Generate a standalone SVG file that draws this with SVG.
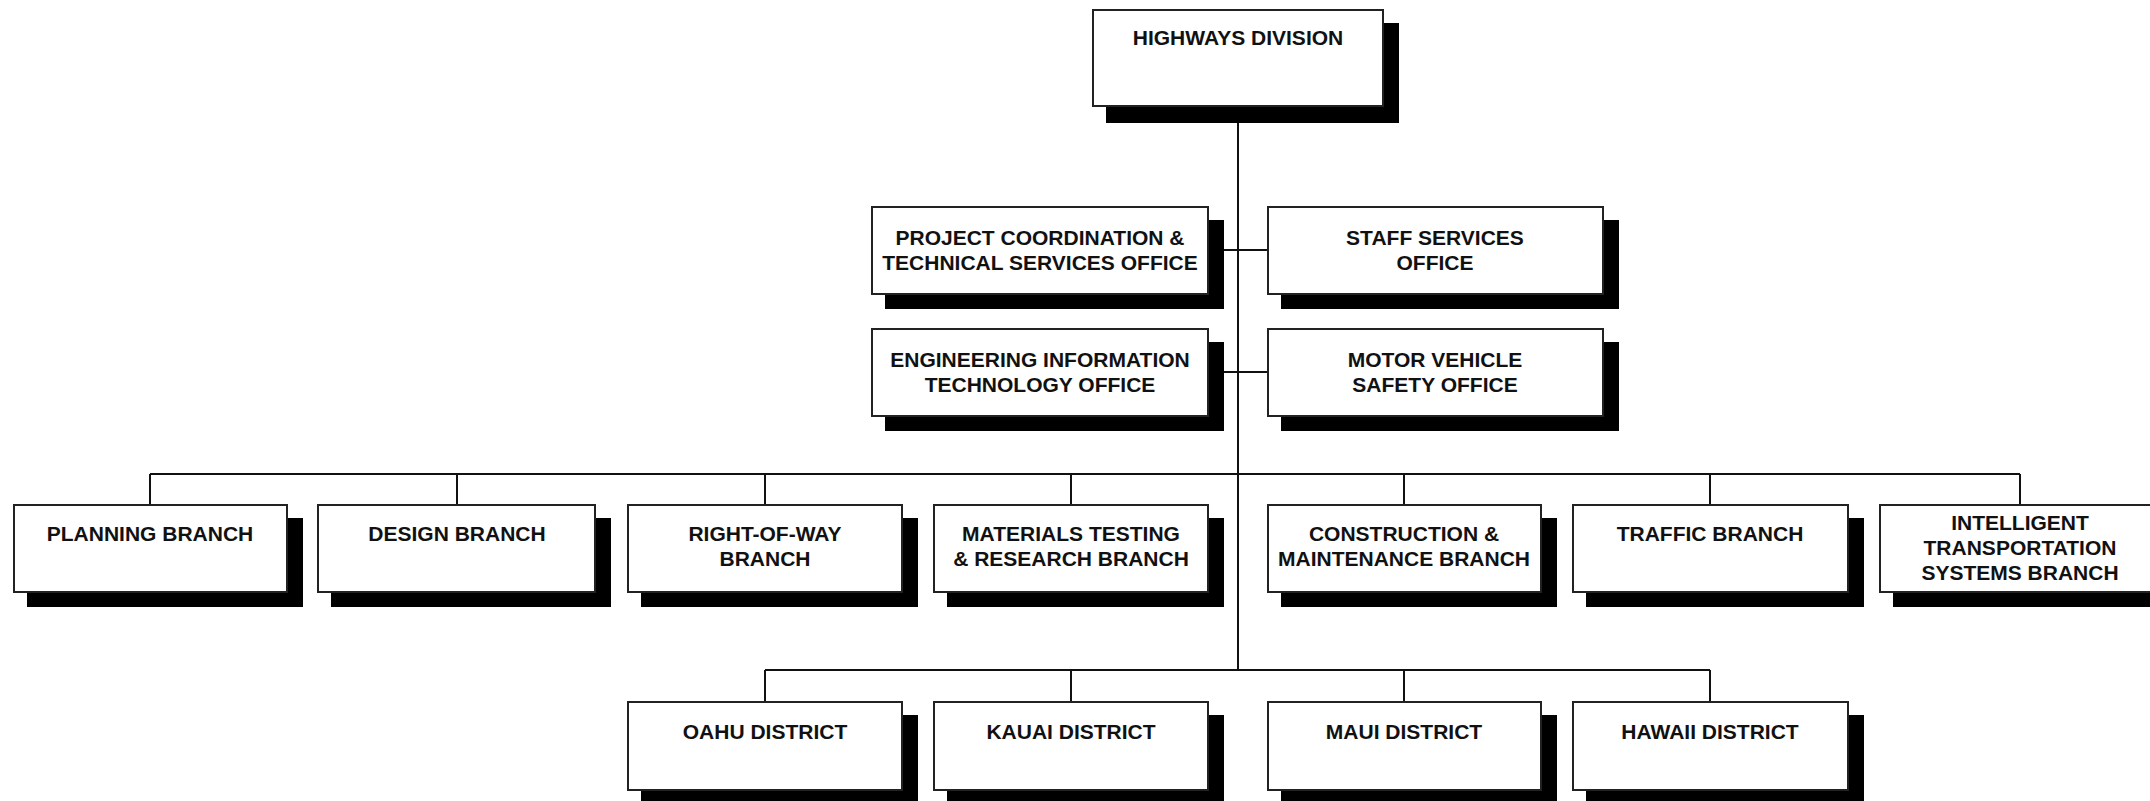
<svg xmlns="http://www.w3.org/2000/svg" width="2150" height="801" viewBox="0 0 2150 801">
<style>
.sh{fill:#000}
.bx{fill:#fff;stroke:#222;stroke-width:2}
.t{font-family:"Liberation Sans",Arial,sans-serif;font-weight:bold;font-size:21px;fill:#111;text-anchor:middle}
.ln{stroke:#111;stroke-width:2;fill:none}
</style>
<rect width="2150" height="801" fill="#fff"/>
<g id="connectors">
<path class="ln" d="M1238,107V670M1208,250H1268M1208,372H1268M150,474H2020M150,474V505M457,474V505M765,474V505M1071,474V505M1404,474V505M1710,474V505M2020,474V505M765,670H1710M765,670V702M1071,670V702M1404,670V702M1710,670V702"/>
</g>
<g id="highways"><rect class="sh" x="1106" y="23" width="293" height="100"/><rect class="bx" x="1093" y="10" width="290" height="96"/><text class="t" x="1238" y="45">HIGHWAYS DIVISION</text></g>
<g id="project"><rect class="sh" x="885" y="220" width="339" height="89"/><rect class="bx" x="872" y="207" width="336" height="87"/><text class="t" x="1040" y="245">PROJECT COORDINATION &amp;</text><text class="t" x="1040" y="270">TECHNICAL SERVICES OFFICE</text></g>
<g id="staff"><rect class="sh" x="1281" y="220" width="338" height="89"/><rect class="bx" x="1268" y="207" width="335" height="87"/><text class="t" x="1435" y="245">STAFF SERVICES</text><text class="t" x="1435" y="270">OFFICE</text></g>
<g id="engineering"><rect class="sh" x="885" y="342" width="339" height="89"/><rect class="bx" x="872" y="329" width="336" height="87"/><text class="t" x="1040" y="367">ENGINEERING INFORMATION</text><text class="t" x="1040" y="392">TECHNOLOGY OFFICE</text></g>
<g id="motor"><rect class="sh" x="1281" y="342" width="338" height="89"/><rect class="bx" x="1268" y="329" width="335" height="87"/><text class="t" x="1435" y="367">MOTOR VEHICLE</text><text class="t" x="1435" y="392">SAFETY OFFICE</text></g>
<g id="planning"><rect class="sh" x="27" y="518" width="276" height="89"/><rect class="bx" x="14" y="505" width="273" height="87"/><text class="t" x="150" y="541">PLANNING BRANCH</text></g>
<g id="design"><rect class="sh" x="331" y="518" width="280" height="89"/><rect class="bx" x="318" y="505" width="277" height="87"/><text class="t" x="457" y="541">DESIGN BRANCH</text></g>
<g id="rightofway"><rect class="sh" x="641" y="518" width="277" height="89"/><rect class="bx" x="628" y="505" width="274" height="87"/><text class="t" x="765" y="541">RIGHT-OF-WAY</text><text class="t" x="765" y="566">BRANCH</text></g>
<g id="materials"><rect class="sh" x="947" y="518" width="277" height="89"/><rect class="bx" x="934" y="505" width="274" height="87"/><text class="t" x="1071" y="541">MATERIALS TESTING</text><text class="t" x="1071" y="566">&amp; RESEARCH BRANCH</text></g>
<g id="construction"><rect class="sh" x="1281" y="518" width="276" height="89"/><rect class="bx" x="1268" y="505" width="273" height="87"/><text class="t" x="1404" y="541">CONSTRUCTION &amp;</text><text class="t" x="1404" y="566">MAINTENANCE BRANCH</text></g>
<g id="traffic"><rect class="sh" x="1586" y="518" width="278" height="89"/><rect class="bx" x="1573" y="505" width="275" height="87"/><text class="t" x="1710" y="541">TRAFFIC BRANCH</text></g>
<g id="its"><rect class="sh" x="1893" y="518" width="283" height="89"/><rect class="bx" x="1880" y="505" width="280" height="87"/><text class="t" x="2020" y="530">INTELLIGENT</text><text class="t" x="2020" y="555">TRANSPORTATION</text><text class="t" x="2020" y="580">SYSTEMS BRANCH</text></g>
<g id="oahu"><rect class="sh" x="641" y="715" width="277" height="90"/><rect class="bx" x="628" y="702" width="274" height="88"/><text class="t" x="765" y="739">OAHU DISTRICT</text></g>
<g id="kauai"><rect class="sh" x="947" y="715" width="277" height="90"/><rect class="bx" x="934" y="702" width="274" height="88"/><text class="t" x="1071" y="739">KAUAI DISTRICT</text></g>
<g id="maui"><rect class="sh" x="1281" y="715" width="276" height="90"/><rect class="bx" x="1268" y="702" width="273" height="88"/><text class="t" x="1404" y="739">MAUI DISTRICT</text></g>
<g id="hawaii"><rect class="sh" x="1586" y="715" width="278" height="90"/><rect class="bx" x="1573" y="702" width="275" height="88"/><text class="t" x="1710" y="739">HAWAII DISTRICT</text></g>
</svg>
